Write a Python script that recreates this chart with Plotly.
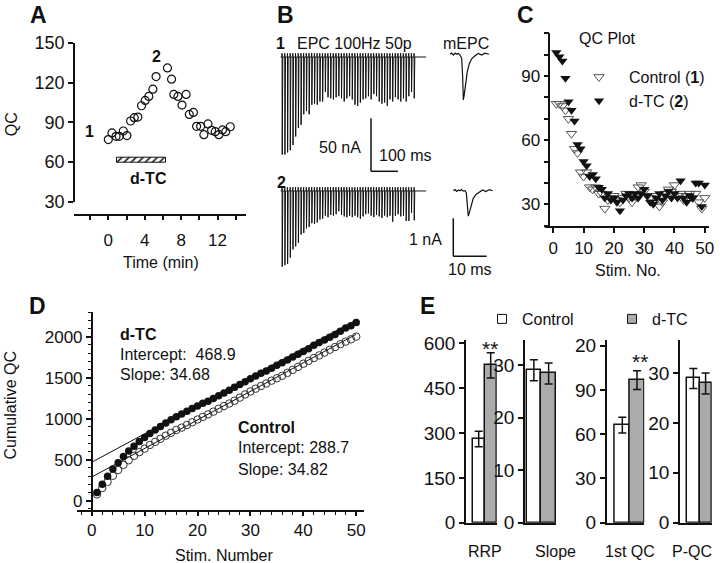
import plotly.graph_objects as go

W, H = 720, 563
FONT = "Liberation Sans, Arial, Helvetica, sans-serif"


def fx(p):
    return p / W


def fy(p):
    return 1 - p / H


# ---------------- Panel A : QC vs time ----------------
a_time = [0.0, 0.4, 0.85, 1.2, 1.65, 2.05, 2.45, 2.85, 3.25, 3.65, 4.05, 4.45, 4.9, 5.25,
          6.5, 6.95, 7.2, 7.65, 8.1, 8.55, 8.9, 9.35, 9.7, 10.15, 10.5, 10.95, 11.35,
          11.75, 12.15, 12.55, 12.9, 13.4]
a_qc = [77, 82, 79.5, 79.5, 83.5, 80, 91, 93.5, 94, 102.5, 106.5, 109.5, 115, 124.5,
        131, 122.5, 111, 109.5, 103, 111, 96, 97.5, 87, 87, 80.7, 88.8, 84, 83, 80.7,
        84.3, 83, 86.7]
a_dtc_on, a_dtc_off = 1.0, 6.3

# ---------------- Panel B : EPC trains and mEPCs ----------------
b_interval_ms = 10
b_epc1_nA = [92, 92, 90, 88, 83, 75, 67, 64, 54, 51,
             54, 45, 44, 45, 42, 42, 33, 38, 39, 40,
             38, 37, 39, 42, 39, 37, 40, 45, 46, 43,
             40, 39, 37, 40, 35, 37, 42, 44, 43, 46,
             40, 42, 38, 40, 42, 39, 42, 37, 33, 39]
b_epc2_nA = [71.4, 70, 68.6, 62.9, 55.1, 52.3, 48.8, 41, 39.6, 35.4,
             33.9, 30.4, 31.1, 29.7, 26.9, 26.2, 23.3, 24.7, 22.6, 23.3,
             21.9, 19.1, 22.6, 24, 24.7, 23.3, 24.7, 23.3, 24.7, 26.2,
             24, 21.9, 21.2, 23.3, 24.7, 22.6, 24, 25.5, 23.3, 24.7,
             23.3, 29, 23.3, 21.9, 24, 23.3, 28.3, 28.3, 20.5, 27.6]
b_mepc1_t = [0, 0.5, 1, 1.5, 2, 2.5, 3, 3.5, 3.8, 4.0, 4.3, 4.7, 5.2, 5.8, 6.5, 7.5, 8.5, 9.5, 10.5, 11.7]
b_mepc1_nA = [0, 0.03, -0.02, 0.03, 0, 0.02, -0.02, -0.1, -0.6, -1.2, -1.05, -0.75, -0.45,
              -0.25, -0.12, -0.04, 0.02, -0.02, 0.03, 0]
b_mepc2_t = [0, 0.5, 1, 1.5, 2, 2.5, 3, 3.5, 3.9, 4.2, 4.5, 4.9, 5.4, 6, 6.8, 7.8, 8.8, 9.8, 10.8, 11.8]
b_mepc2_nA = [0, 0.03, -0.02, 0.02, 0, 0.03, -0.01, 0.0, -0.05, -0.3, -0.67, -0.55, -0.35,
              -0.2, -0.1, -0.04, 0.02, -0.02, 0.03, 0]

# ---------------- Panel C : QC plot ----------------
stim = list(range(1, 51))
qc_ctl = [77, 77, 76, 74, 70, 63, 56, 54, 45, 43,
          45, 38, 37, 38, 35, 35, 28, 32, 33, 34,
          32, 31, 33, 35, 33, 31, 34, 38, 39, 36,
          34, 33, 31, 34, 29, 31, 35, 37, 36, 39,
          34, 35, 32, 34, 35, 33, 35, 31, 28, 33]
qc_dtc = [101, 99, 97, 89, 78, 74, 69, 58, 56, 50,
          48, 43, 44, 42, 38, 37, 33, 35, 32, 33,
          31, 27, 32, 34, 35, 33, 35, 33, 35, 37,
          34, 31, 30, 33, 35, 32, 34, 36, 33, 35,
          33, 41, 33, 31, 34, 33, 40, 40, 29, 39]

# ---------------- Panel D : cumulative QC ----------------
cum_ctl = [77, 154, 230, 304, 374, 437, 493, 547, 592, 635,
           680, 718, 755, 793, 828, 863, 891, 923, 956, 990,
           1022, 1053, 1086, 1121, 1154, 1185, 1219, 1257, 1296, 1332,
           1366, 1399, 1430, 1464, 1493, 1524, 1559, 1596, 1632, 1671,
           1705, 1740, 1772, 1806, 1841, 1874, 1909, 1940, 1968, 2001]
cum_dtc = [101, 200, 297, 386, 464, 538, 607, 665, 721, 771,
           819, 862, 906, 948, 986, 1023, 1056, 1091, 1123, 1156,
           1187, 1214, 1246, 1280, 1315, 1348, 1383, 1416, 1451, 1488,
           1522, 1553, 1583, 1616, 1651, 1683, 1717, 1753, 1786, 1821,
           1854, 1895, 1928, 1959, 1993, 2026, 2066, 2106, 2135, 2174]
fit_dtc = (468.9, 34.68)   # intercept, slope
fit_ctl = (288.7, 34.82)
fit_x = [0, 50]

# ---------------- Panel E : summary bars ----------------
e_groups = ["RRP", "Slope", "1st QC", "P-QC"]
e_ctl_mean = [280, 29.0, 66.2, 28.9]
e_ctl_sem = [26, 2.0, 5.3, 2.0]
e_dtc_mean = [526, 28.4, 96.7, 27.9]
e_dtc_sem = [42, 2.0, 6.4, 2.1]
e_tickvals = [[0, 150, 300, 450, 600], [0, 10, 20, 30], [0, 30, 60, 90, 120], [0, 10, 20, 30]]
e_ticktext = [["0", "150", "300", "450", "600"], ["0", "10", "20", "30"],
              ["0", "30", "60", "90", "20"], ["0", "10", "20", "30"]]
e_yrange = [611, 34.76, 123.9, 36.6]

# ---------------- styles / geometry ----------------
BLACK = "#111111"
GRAY_BAR = "#ababab"


def tf(size):
    return dict(size=size, color=BLACK, family=FONT)


AX = dict(showgrid=False, zeroline=False, showline=True, linecolor=BLACK, linewidth=1.5,
          ticks="outside", tickcolor=BLACK, tickwidth=1.5, ticklen=5, automargin=False)
HID = dict(visible=False, showgrid=False, zeroline=False, automargin=False)

fig = go.Figure()

# ---- A
fig.add_trace(go.Bar(x=[a_dtc_off - a_dtc_on], y=[61.4], base=[a_dtc_on], orientation="h",
                     width=[3.8], xaxis="x", yaxis="y", showlegend=False,
                     marker=dict(color="white", line=dict(color=BLACK, width=1),
                                 pattern=dict(shape="/", fgcolor=BLACK, bgcolor="white",
                                              size=5, solidity=0.3))))
fig.add_trace(go.Scatter(x=a_time, y=a_qc, mode="markers", xaxis="x", yaxis="y",
                         showlegend=False, cliponaxis=False,
                         marker=dict(symbol="circle-open", size=8, color=BLACK,
                                     line=dict(width=1.2, color=BLACK))))

# ---- B (EPC trains)
SPK_T = [0.0, 0.3, 0.9, 1.9, 3.0]
SPK_F = [0.0, None, -1.0, -0.12, 0.0]
ART_NA = 3.5


def epc_trace(amps):
    t, cur = [-5.0], [0.0]
    for k, a in enumerate(amps):
        t0 = k * b_interval_ms
        for dt, f in zip(SPK_T, SPK_F):
            t.append(t0 + dt)
            cur.append(ART_NA if f is None else f * a)
    t.append(535.0)
    cur.append(0.0)
    return t, cur


for amps, xa, ya in [(b_epc1_nA, "x2", "y2"), (b_epc2_nA, "x3", "y3")]:
    t, c = epc_trace(amps)
    fig.add_trace(go.Scatter(x=t, y=c, mode="lines", xaxis=xa, yaxis=ya, showlegend=False,
                             line=dict(color=BLACK, width=1)))
fig.add_trace(go.Scatter(x=b_mepc1_t, y=b_mepc1_nA, mode="lines", xaxis="x4", yaxis="y4",
                         showlegend=False, line=dict(color=BLACK, width=1.2)))
fig.add_trace(go.Scatter(x=b_mepc2_t, y=b_mepc2_nA, mode="lines", xaxis="x5", yaxis="y5",
                         showlegend=False, line=dict(color=BLACK, width=1.2)))

# ---- C
fig.add_trace(go.Scatter(x=stim, y=qc_ctl, mode="markers", xaxis="x6", yaxis="y6",
                         name="Control (<b>1</b>)", legend="legend", cliponaxis=False,
                         marker=dict(symbol="triangle-down-open", size=9, color="#555555",
                                     line=dict(width=1, color="#555555"))))
fig.add_trace(go.Scatter(x=stim, y=qc_dtc, mode="markers", xaxis="x6", yaxis="y6",
                         name="d-TC (<b>2</b>)", legend="legend", cliponaxis=False,
                         marker=dict(symbol="triangle-down", size=9, color=BLACK)))

# ---- D
for (b0, b1) in [fit_dtc, fit_ctl]:
    fig.add_trace(go.Scatter(x=fit_x, y=[b0 + b1 * v for v in fit_x], mode="lines",
                             xaxis="x7", yaxis="y7", showlegend=False,
                             line=dict(color=BLACK, width=1)))
fig.add_trace(go.Scatter(x=stim, y=cum_ctl, mode="markers", xaxis="x7", yaxis="y7",
                         showlegend=False, cliponaxis=False,
                         marker=dict(symbol="circle-open", size=7.5, color="#333333",
                                     line=dict(width=1, color="#333333"))))
fig.add_trace(go.Scatter(x=stim, y=cum_dtc, mode="markers", xaxis="x7", yaxis="y7",
                         showlegend=False, cliponaxis=False,
                         marker=dict(symbol="circle", size=7.5, color=BLACK)))

# ---- E
e_xdom = [(466, 496.7), (525, 556), (606.7, 644.3), (680, 711.7)]
e_xrange = [(-1.058, 1.5), (-0.602, 1.5), (-1.067, 1.5), (-1.098, 1.5)]
for i in range(4):
    n = 8 + i
    fig.add_trace(go.Bar(x=[0, 1], y=[e_ctl_mean[i], e_dtc_mean[i]], width=[1, 1],
                         xaxis=f"x{n}", yaxis=f"y{n}", showlegend=False,
                         marker=dict(color=["white", GRAY_BAR], line=dict(color=BLACK, width=1.5)),
                         error_y=dict(type="data", array=[e_ctl_sem[i], e_dtc_sem[i]],
                                      color=BLACK, thickness=1.5, width=4)))
fig.add_trace(go.Scatter(x=[None], y=[None], mode="markers", xaxis="x8", yaxis="y8",
                         name="Control", legend="legend2",
                         marker=dict(symbol="square", size=9, color="white",
                                     line=dict(color=BLACK, width=1))))
fig.add_trace(go.Scatter(x=[None], y=[None], mode="markers", xaxis="x8", yaxis="y8",
                         name="d-TC", legend="legend3",
                         marker=dict(symbol="square", size=9, color=GRAY_BAR,
                                     line=dict(color=BLACK, width=1))))

layout = dict(
    template="none",
    width=W, height=H, autosize=False,
    margin=dict(l=0, r=0, t=0, b=0, pad=0, autoexpand=False),
    paper_bgcolor="white", plot_bgcolor="rgba(0,0,0,0)",
    font=dict(family=FONT, size=16, color=BLACK),
    bargap=0,
)
# A axes
layout["xaxis"] = dict(AX, domain=[fx(74), fx(246)], range=[-3.77, 15.13], anchor="free",
                       position=fy(214.5), tickvals=list(range(-2, 15, 2)), tickfont=tf(17),
                       ticktext=["", "0", "", "4", "", "8", "", "12", ""], ticklabelstandoff=5)
layout["yaxis"] = dict(AX, domain=[fy(202), fy(42.7)], range=[30, 150], anchor="free",
                       position=fx(74), tickvals=[30, 60, 90, 120, 150], tickfont=tf(18))
# B hidden axes
layout["xaxis2"] = dict(HID, domain=[fx(270), fx(430)], range=[-44.5, 549.4], anchor="y2")
layout["yaxis2"] = dict(HID, domain=[fy(175), fy(35)], range=[-111.3, 20.75], anchor="x2")
layout["xaxis3"] = dict(HID, domain=[fx(270), fx(430)], range=[-44.5, 549.4], anchor="y3")
layout["yaxis3"] = dict(HID, domain=[fy(285), fy(172)], range=[-88.7, 17.9], anchor="x3")
layout["xaxis4"] = dict(HID, domain=[fx(440), fx(500)], range=[-3.0, 15.0], anchor="y4")
layout["yaxis4"] = dict(HID, domain=[fy(110), fy(40)], range=[-1.466, 0.376], anchor="x4")
layout["xaxis5"] = dict(HID, domain=[fx(440), fx(500)], range=[-3.99, 14.02], anchor="y5")
layout["yaxis5"] = dict(HID, domain=[fy(275), fy(175)], range=[-2.218, 0.413], anchor="x5")
# C axes
layout["xaxis6"] = dict(AX, domain=[fx(545), fx(709.3)], range=[-2.74, 51.49], anchor="y6",
                        tickvals=[0, 10, 20, 30, 40, 50], ticklabelstandoff=1, tickfont=tf(17))
layout["yaxis6"] = dict(AX, domain=[fy(226), fy(33.3)], range=[19.85, 110], anchor="free",
                        position=fx(549.3), tickvals=list(range(20, 111, 10)), tickfont=tf(17),
                        ticktext=["", "30", "", "", "60", "", "", "90", "", ""])
# D axes
layout["xaxis7"] = dict(AX, domain=[fx(77.3), fx(364)], range=[-2.72, 51.47], anchor="y7",
                        tickvals=[0, 10, 20, 30, 40, 50], ticklabelstandoff=0, ticklen=4,
                        tickfont=tf(17),
                        minor=dict(dtick=2, tick0=0, ticks="outside", ticklen=3, tickwidth=1,
                                   tickcolor=BLACK))
layout["yaxis7"] = dict(AX, domain=[fy(510), fy(311.7)], range=[-113.4, 2305], anchor="free",
                        position=fx(91.7), tickvals=[0, 500, 1000, 1500, 2000], tickfont=tf(17),
                        minor=dict(dtick=100, tick0=0, ticks="outside", ticklen=3, tickwidth=1,
                                   tickcolor=BLACK))
# E axes
for i in range(4):
    n = 8 + i
    layout[f"xaxis{n}"] = dict(AX, domain=[fx(e_xdom[i][0]), fx(e_xdom[i][1])],
                               range=list(e_xrange[i]), anchor=f"y{n}", ticks="",
                               showticklabels=False)
    layout[f"yaxis{n}"] = dict(AX, domain=[fy(522.7), fy(340)], range=[0, e_yrange[i]],
                               anchor=f"x{n}", tickvals=e_tickvals[i], ticktext=e_ticktext[i],
                               tickfont=tf(19))

LEG = dict(bgcolor="rgba(0,0,0,0)", font=tf(16), itemclick=False, itemdoubleclick=False,
           borderwidth=0, tracegroupgap=0)
layout["legend"] = dict(LEG, x=fx(569), y=fy(60), xanchor="left", yanchor="top", itemwidth=50)
layout["legend2"] = dict(LEG, x=fx(482), y=fy(319), xanchor="left", yanchor="middle")
layout["legend3"] = dict(LEG, x=fx(612), y=fy(319), xanchor="left", yanchor="middle")

shapes = []
# EPC scale bar (50 nA, 100 ms)
sb_t, sb_i = 330.4, -57.8
shapes.append(dict(type="line", xref="x2", yref="y2", x0=sb_t, x1=sb_t, y0=sb_i, y1=sb_i - 50,
                   line=dict(color=BLACK, width=1.5)))
shapes.append(dict(type="line", xref="x2", yref="y2", x0=sb_t, x1=sb_t + 100, y0=sb_i - 50,
                   y1=sb_i - 50, line=dict(color=BLACK, width=1.5)))
# mEPC scale bar (1 nA, 10 ms)
ms_t, ms_i = 0.0, -0.726
shapes.append(dict(type="line", xref="x5", yref="y5", x0=ms_t, x1=ms_t, y0=ms_i, y1=ms_i - 1,
                   line=dict(color=BLACK, width=1.5)))
shapes.append(dict(type="line", xref="x5", yref="y5", x0=ms_t, x1=ms_t + 10, y0=ms_i - 1,
                   y1=ms_i - 1, line=dict(color=BLACK, width=1.5)))
layout["shapes"] = shapes

ann = []


def text(x, y, s, size=16, bold=False, xanchor="center", angle=0):
    ann.append(dict(x=fx(x), y=fy(y), xref="paper", yref="paper", showarrow=False,
                    text=f"<b>{s}</b>" if bold else s, xanchor=xanchor, yanchor="middle",
                    textangle=angle, font=dict(size=size, color=BLACK, family=FONT)))


# panel letters
for L, x, y in [("A", 38, 15), ("B", 285, 15), ("C", 525.8, 15), ("D", 37.5, 306), ("E", 427.5, 306)]:
    text(x, y, L, size=23, bold=True)
# A
text(89.3, 131, "1", bold=True)
text(156, 56, "2", bold=True)
text(148, 179, "d-TC", bold=True)
text(11.3, 124, "QC", angle=-90)
text(161.3, 262, "Time (min)")
# B
text(280.5, 43.5, "1", bold=True)
text(295, 43.5, "EPC 100Hz 50p", xanchor="left")
text(466, 43.5, "mEPC")
text(281.5, 182.5, "2", bold=True)
text(362.7, 147.5, "50 nA", xanchor="right")
text(376.7, 155, "100 ms", xanchor="left")
text(444.3, 240, "1 nA", xanchor="right")
text(470.3, 269, "10 ms")
# C
text(607.8, 39, "QC Plot")
text(627.5, 271, "Stim. No.")
# D
text(9.5, 406, "Cumulative QC", angle=-90)
text(224, 555, "Stim. Number")
text(118.3, 334, "d-TC", bold=True, xanchor="left")
text(118.3, 354, "Intercept:\u00a0 468.9", xanchor="left")
text(118.3, 374, "Slope: 34.68", xanchor="left")
text(236, 427, "Control", bold=True, xanchor="left")
text(236, 447.5, "Intercept: 288.7", xanchor="left")
text(236, 469, "Slope: 34.82", xanchor="left")
# E
text(490, 348, "**", size=21)
text(640, 361, "**", size=21)
for lab, x in zip(e_groups, [485, 555.8, 629.5, 691.7]):
    text(x, 551, lab)
layout["annotations"] = ann

fig.update_layout(**layout)
fig.write_html(
    "out.html",
    config={"displayModeBar": False},
    post_script="document.body.style.margin='0px';document.body.style.padding='0px';"
                "document.documentElement.style.overflow='hidden';",
)
